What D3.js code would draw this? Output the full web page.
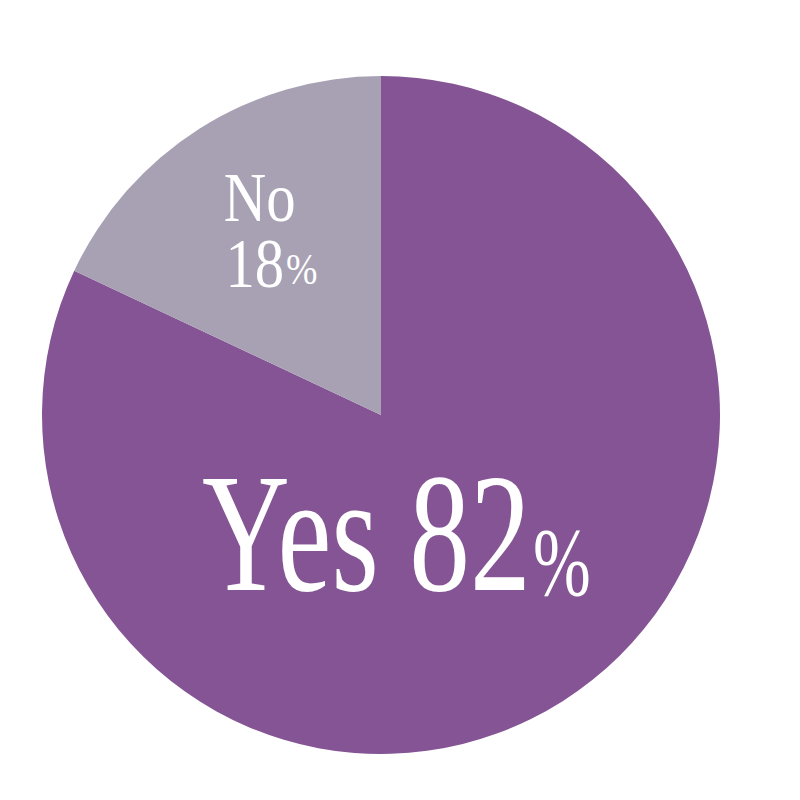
<!DOCTYPE html>
<html>
<head>
<meta charset="utf-8">
<script src="https://cdn.jsdelivr.net/npm/d3@7"></script>
<style>
  body { margin: 0; background: #fff; }
  svg { display: block; }
  text { font-family: "Liberation Serif", "Times New Roman", Times, serif; fill: #fff; }
</style>
</head>
<body>
<div id="chart"></div>
<script>
const answers = ["Yes", "No"];
const shares = [82, 18];
const sliceColors = ["#845494", "#a7a1b3"];

const width = 800;
const height = 800;
const cx = 381, cy = 415, radius = 339;

const svg = d3.select("#chart")
  .append("svg")
  .attr("width", width)
  .attr("height", height);

const g = svg.append("g")
  .attr("transform", `translate(${cx},${cy})`);

const color = d3.scaleOrdinal().domain(answers).range(sliceColors);

const pie = d3.pie().sort(null).value(d => d.value);
const arcs = pie(answers.map((a, i) => ({ name: a, value: shares[i] })));

const arc = d3.arc().innerRadius(0).outerRadius(radius);

g.selectAll("path")
  .data(arcs)
  .enter()
  .append("path")
  .attr("d", arc)
  .attr("fill", d => color(d.data.name));

// big "Yes" label, condensed like the original face
const yes = arcs[0];
const yesText = g.append("text")
  .attr("transform", "translate(-179,175) scale(0.715,1)");
yesText.append("tspan")
  .attr("font-size", 170)
  .text(`${yes.data.name} ${yes.data.value}`);
yesText.append("tspan")
  .attr("font-size", 97)
  .attr("dx", 3)
  .attr("dy", 5)
  .text("%");

// small "No" label, placed along the slice (two lines in one text)
const no = arcs[1];
const labelArc = d3.arc().innerRadius(215).outerRadius(215);
const [nx, ny] = labelArc.centroid(no);
const noText = g.append("text")
  .attr("transform", `translate(${nx - 42},${ny - 12}) scale(0.84,1)`);
noText.append("tspan")
  .attr("x", 0)
  .attr("font-size", 70)
  .text(no.data.name);
noText.append("tspan")
  .attr("x", 2)
  .attr("dy", 66)
  .attr("font-size", 70)
  .text(no.data.value);
noText.append("tspan")
  .attr("font-size", 45)
  .attr("dx", 2)
  .attr("dy", -3)
  .text("%");
</script>
</body>
</html>
